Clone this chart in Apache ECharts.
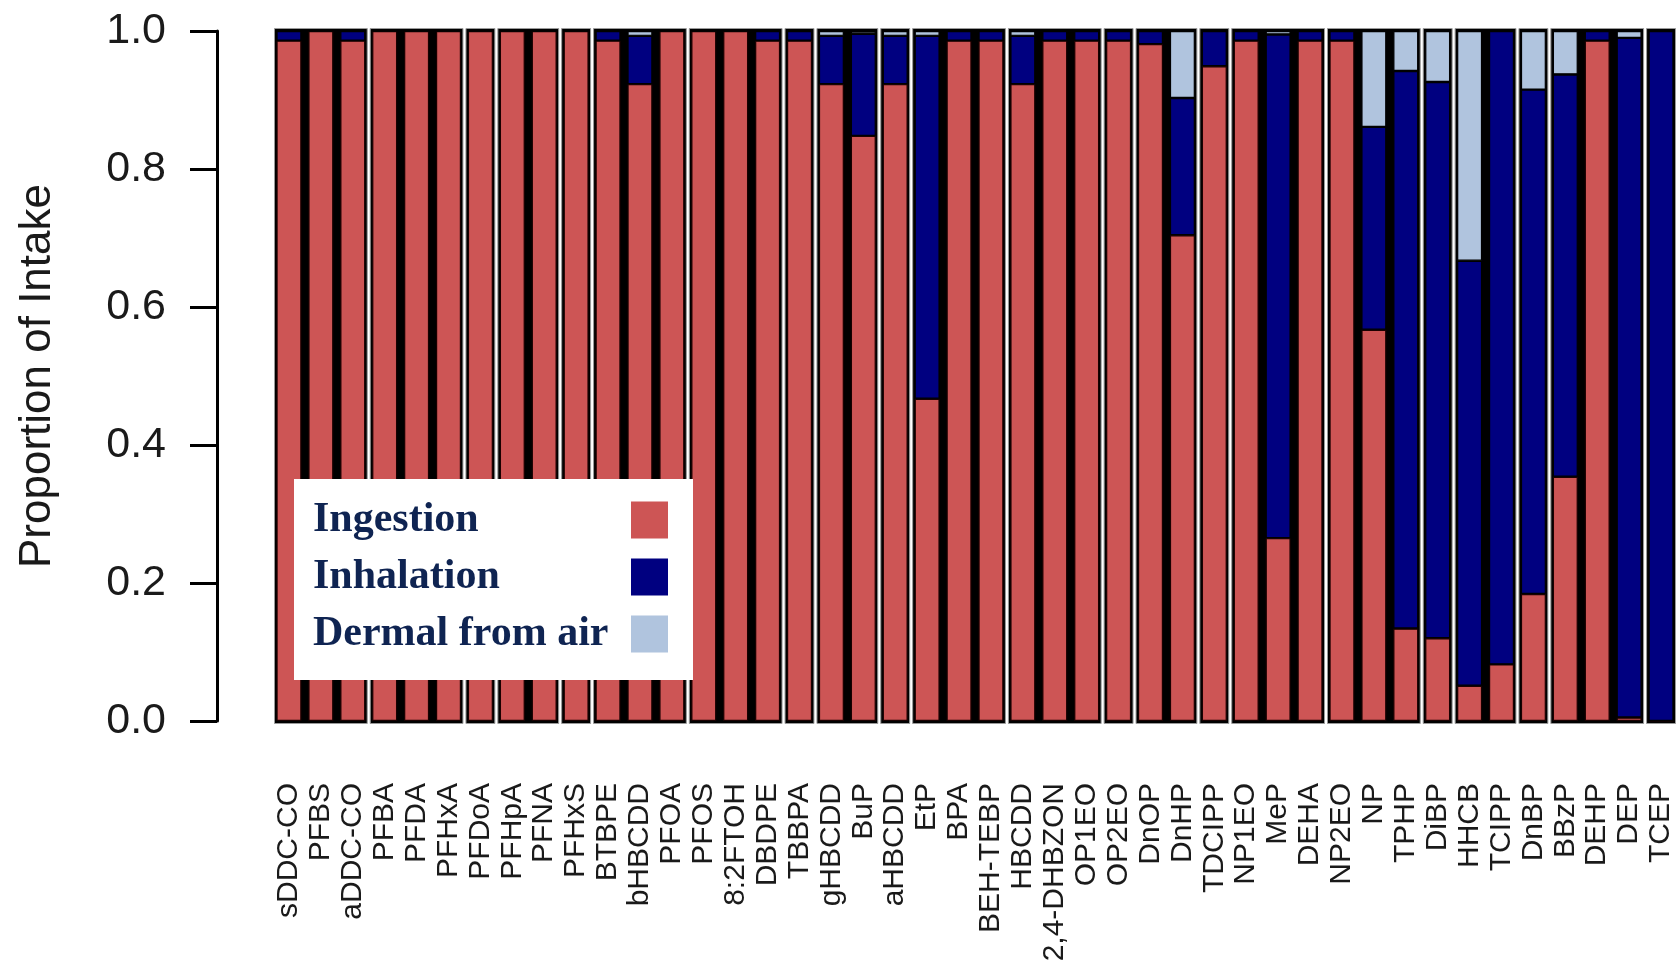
<!DOCTYPE html>
<html>
<head>
<meta charset="utf-8">
<script src="https://cdn.jsdelivr.net/npm/echarts@6/dist/echarts.min.js"></script>
<style>
  html, body { margin: 0; padding: 0; background: #ffffff; }
  #chart { width: 1679px; height: 965px; }
</style>
</head>
<body>
<div id="chart"></div>
<script>
const categories = ['sDDC-CO','PFBS','aDDC-CO','PFBA','PFDA','PFHxA','PFDoA','PFHpA','PFNA','PFHxS',
  'BTBPE','bHBCDD','PFOA','PFOS','8:2FTOH','DBDPE','TBBPA','gHBCDD','BuP','aHBCDD',
  'EtP','BPA','BEH-TEBP','HBCDD','2,4-DHBZON','OP1EO','OP2EO','DnOP','DnHP','TDCIPP',
  'NP1EO','MeP','DEHA','NP2EO','NP','TPHP','DiBP','HHCB','TCIPP','DnBP',
  'BBzP','DEHP','DEP','TCEP'];

const ingestion = [0.986,1,0.986,1,1,1,1,1,1,1,
  0.986,0.923,1,1,1,0.986,0.986,0.923,0.848,0.923,
  0.467,0.986,0.986,0.923,0.986,0.986,0.986,0.981,0.704,0.949,
  0.986,0.265,0.986,0.986,0.567,0.134,0.120,0.051,0.082,0.184,
  0.354,0.986,0.005,0];

const inhalation = [0.014,0,0.014,0,0,0,0,0,0,0,
  0.014,0.070,0,0,0,0.014,0.014,0.070,0.148,0.070,
  0.526,0.014,0.014,0.070,0.014,0.014,0.014,0.019,0.199,0.051,
  0.014,0.730,0.014,0.014,0.294,0.808,0.806,0.616,0.918,0.731,
  0.583,0.014,0.985,1];

const dermal = [0,0,0,0,0,0,0,0,0,0,
  0,0.007,0,0,0,0,0,0.007,0.004,0.007,
  0.007,0,0,0.007,0,0,0,0,0.097,0,
  0,0.005,0,0,0.139,0.058,0.074,0.333,0,0.085,
  0.063,0,0.010,0];

const groupSizes = [3,3,1,2,1,3,3,1,2,1,3,3,1,2,1,3,3,1,2,1,3,1];

const yTicks = [0, 0.2, 0.4, 0.6, 0.8, 1.0];

const groups = [];
let idx = 0;
groupSizes.forEach(n => { groups.push([idx, idx + n - 1, 1]); idx += n; });

const chart = echarts.init(document.getElementById('chart'));

const barCommon = {
  type: 'bar',
  stack: 'total',
  barWidth: 25,
  z: 3,
  xAxisIndex: 0,
  yAxisIndex: 0
};

chart.setOption({
  backgroundColor: '#ffffff',
  animation: false,
  grid: { left: 273, right: 2, top: 31, bottom: 244, containLabel: false },
  legend: {
    data: ['Ingestion', 'Inhalation', 'Dermal from air'],
    orient: 'vertical',
    left: 294,
    top: 479,
    align: 'right',
    backgroundColor: '#ffffff',
    padding: [20, 25, 25, 19],
    itemWidth: 37,
    itemHeight: 37,
    itemGap: 15,
    icon: 'rect',
    itemStyle: { borderWidth: 0 },
    formatter: name => '{t|' + name + '}',
    textStyle: {
      fontFamily: 'Liberation Serif',
      fontSize: 42,
      fontWeight: 'bold',
      color: '#0f2452',
      lineHeight: 37,
      rich: {
        t: {
          width: 313,
          align: 'left',
          fontFamily: 'Liberation Serif',
          fontSize: 42,
          fontWeight: 'bold',
          color: '#0f2452',
          lineHeight: 37
        }
      }
    },
    selectedMode: false
  },
  xAxis: {
    type: 'category',
    data: categories,
    axisLine: { show: false },
    axisTick: { show: false },
    splitLine: { show: false },
    axisLabel: {
      interval: 0,
      rotate: 90,
      margin: 62,
      fontFamily: 'Liberation Sans',
      fontSize: 30,
      color: '#1a1a1a'
    }
  },
  yAxis: {
    type: 'value',
    min: yTicks[0],
    max: yTicks[yTicks.length - 1],
    interval: 0.2,
    offset: 56,
    name: 'Proportion of Intake',
    nameLocation: 'middle',
    nameGap: 157,
    nameTextStyle: { fontFamily: 'Liberation Sans', fontSize: 44, color: '#1a1a1a' },
    axisLine: { show: true, lineStyle: { color: '#000', width: 3 } },
    axisTick: { show: true, length: 27, lineStyle: { color: '#000', width: 3 } },
    splitLine: { show: false },
    axisLabel: {
      margin: 51,
      fontFamily: 'Liberation Sans',
      fontSize: 43,
      color: '#1a1a1a',
      formatter: v => v.toFixed(1)
    }
  },
  series: [
    {
      name: 'frame',
      type: 'custom',
      silent: true,
      z: 1,
      data: groups,
      encode: { x: [0, 1], y: 2 },
      renderItem: function (params, api) {
        const s = api.value(0), e = api.value(1);
        const band = api.size([1, 0])[0];
        const p0 = api.coord([s, 0]);
        const p1 = api.coord([e, 1]);
        const x0 = p0[0] - band / 2 + 1.5;
        const x1 = p1[0] + band / 2 - 1.5;
        const y0 = p1[1] - 2.5;
        const y1 = p0[1] + 2.5;
        return {
          type: 'rect',
          shape: { x: x0, y: y0, width: x1 - x0, height: y1 - y0 },
          style: { fill: '#000000', stroke: '#9a9a9a', lineWidth: 1 }
        };
      }
    },
    Object.assign({}, barCommon, {
      name: 'Ingestion',
      data: ingestion,
      itemStyle: { color: '#CD5555', borderColor: '#1a0000', borderWidth: 1.2 }
    }),
    Object.assign({}, barCommon, {
      name: 'Inhalation',
      data: inhalation,
      itemStyle: { color: '#000080', borderColor: '#000000', borderWidth: 1.2 }
    }),
    Object.assign({}, barCommon, {
      name: 'Dermal from air',
      data: dermal,
      itemStyle: { color: '#B0C4DE', borderColor: '#000000', borderWidth: 1.2 }
    })
  ]
});
</script>
</body>
</html>
